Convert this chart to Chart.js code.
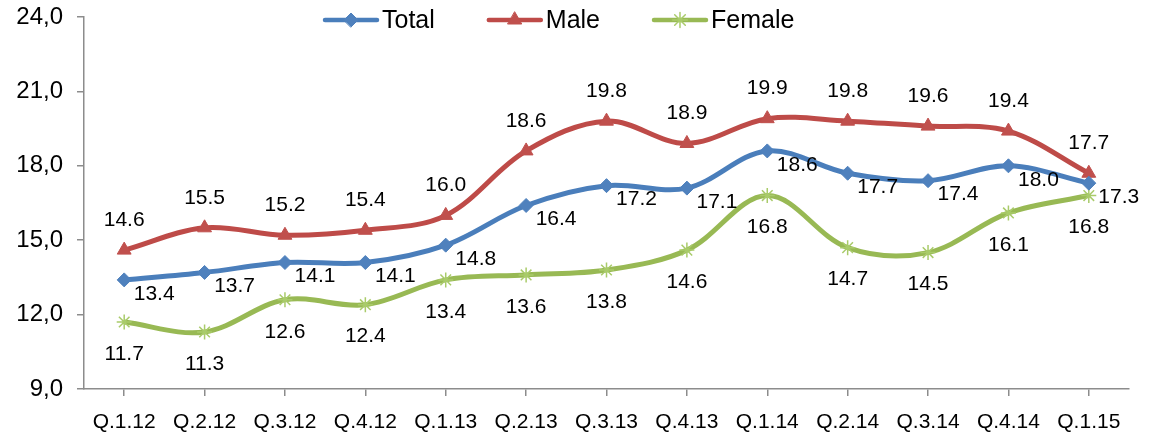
<!DOCTYPE html>
<html>
<head>
<meta charset="utf-8">
<script src="https://cdn.jsdelivr.net/npm/chart.js@4.4.1/dist/chart.umd.min.js"></script>
<style>
  html, body { margin: 0; padding: 0; background: #fff; }
  #wrap { width: 1149px; height: 439px; }
</style>
</head>
<body>
<div id="wrap"><canvas id="chart"></canvas></div>
<script>
const quarters = ['Q.1.12', 'Q.2.12', 'Q.3.12', 'Q.4.12', 'Q.1.13', 'Q.2.13', 'Q.3.13',
  'Q.4.13', 'Q.1.14', 'Q.2.14', 'Q.3.14', 'Q.4.14', 'Q.1.15'];
const total  = [13.4, 13.7, 14.1, 14.1, 14.8, 16.4, 17.2, 17.1, 18.6, 17.7, 17.4, 18.0, 17.3];
const male   = [14.6, 15.5, 15.2, 15.4, 16.0, 18.6, 19.8, 18.9, 19.9, 19.8, 19.6, 19.4, 17.7];
const female = [11.7, 11.3, 12.6, 12.4, 13.4, 13.6, 13.8, 14.6, 16.8, 14.7, 14.5, 16.1, 16.8];
const yMin = 9, yMax = 24, yStep = 3;

const FONT = '"Liberation Sans", Arial, sans-serif';
const AXIS_GREY = '#8c8c8c';

// where each series puts its value labels, relative to the point
const labelOffset = { Total: [30, 14], Male: [0, -30], Female: [0, 32] };

const valueLabels = {
  id: 'valueLabels',
  afterDatasetsDraw(chart) {
    const ctx = chart.ctx;
    ctx.save();
    ctx.font = '21px ' + FONT;
    ctx.fillStyle = '#000';
    ctx.textAlign = 'center';
    ctx.textBaseline = 'middle';
    chart.data.datasets.forEach((ds, i) => {
      const off = labelOffset[ds.label];
      chart.getDatasetMeta(i).data.forEach((pt, j) => {
        ctx.fillText(ds.data[j].toFixed(1), pt.x + off[0], pt.y + off[1]);
      });
    });
    ctx.restore();
  }
};

// Excel style legend sitting over the top of the plot
const overlayLegend = {
  id: 'overlayLegend',
  afterDraw(chart) {
    const ctx = chart.ctx;
    ctx.save();
    ctx.font = '25px ' + FONT;
    ctx.textBaseline = 'middle';
    let x = 325;
    const y = 20;
    chart.data.datasets.forEach(ds => {
      ctx.strokeStyle = ds.borderColor;
      ctx.lineWidth = 4.5;
      ctx.lineCap = 'round';
      ctx.beginPath();
      ctx.moveTo(x, y);
      ctx.lineTo(x + 52, y);
      ctx.stroke();
      ctx.fillStyle = ds.pointBackgroundColor;
      ctx.strokeStyle = ds.pointBorderColor;
      ctx.lineWidth = ds.pointBorderWidth;
      Chart.helpers.drawPoint(ctx, {
        pointStyle: ds.pointStyle, radius: ds.pointRadius,
        borderWidth: ds.pointBorderWidth, rotation: 0
      }, x + 26, y);
      ctx.fillStyle = '#000';
      ctx.fillText(ds.label, x + 57, y + 1);
      x += 57 + ctx.measureText(ds.label).width + 54;
    });
    ctx.restore();
  }
};

const ctx = document.getElementById('chart').getContext('2d');
new Chart(ctx, {
  type: 'line',
  data: {
    labels: quarters,
    datasets: [
      {
        label: 'Total',
        data: total,
        borderColor: '#4a7ebb',
        borderWidth: 5,
        pointStyle: 'rectRot',
        pointRadius: 7,
        pointBackgroundColor: '#4f81bd',
        pointBorderColor: '#4f81bd',
        pointBorderWidth: 1,
        tension: 0.35
      },
      {
        label: 'Male',
        data: male,
        borderColor: '#be4b48',
        borderWidth: 5,
        pointStyle: 'triangle',
        pointRadius: 8,
        pointBackgroundColor: '#c0504d',
        pointBorderColor: '#c0504d',
        pointBorderWidth: 1,
        tension: 0.35
      },
      {
        label: 'Female',
        data: female,
        borderColor: '#98b954',
        borderWidth: 5,
        pointStyle: 'star',
        pointRadius: 7.5,
        pointBackgroundColor: 'rgba(0,0,0,0)',
        pointBorderColor: '#a9cb6a',
        pointBorderWidth: 1.5,
        tension: 0.35
      }
    ]
  },
  options: {
    responsive: true,
    maintainAspectRatio: false,
    animation: false,
    layout: { padding: { top: 17, right: 20, left: 0, bottom: 0 } },
    plugins: {
      legend: { display: false },
      tooltip: { enabled: false }
    },
    scales: {
      x: {
        offset: true,
        afterFit(scale) { scale.height = 50; },
        border: { color: AXIS_GREY, width: 1.5 },
        grid: { drawOnChartArea: false, drawTicks: true, tickLength: 7, color: AXIS_GREY, lineWidth: 1.5 },
        ticks: { color: '#000', font: { family: FONT, size: 21 }, padding: 14, maxRotation: 0 }
      },
      y: {
        min: yMin,
        max: yMax,
        afterFit(scale) {
          scale.width = 84;
          scale.paddingTop = 0;
          scale.paddingBottom = 0;
        },
        border: { color: AXIS_GREY, width: 1.5 },
        grid: { drawOnChartArea: false, drawTicks: true, tickLength: 7, color: AXIS_GREY, lineWidth: 1.5 },
        ticks: {
          stepSize: yStep,
          color: '#000',
          font: { family: FONT, size: 24 },
          padding: 14,
          callback: v => v.toFixed(1).replace('.', ',')
        }
      }
    }
  },
  plugins: [valueLabels, overlayLegend]
});
</script>
</body>
</html>
